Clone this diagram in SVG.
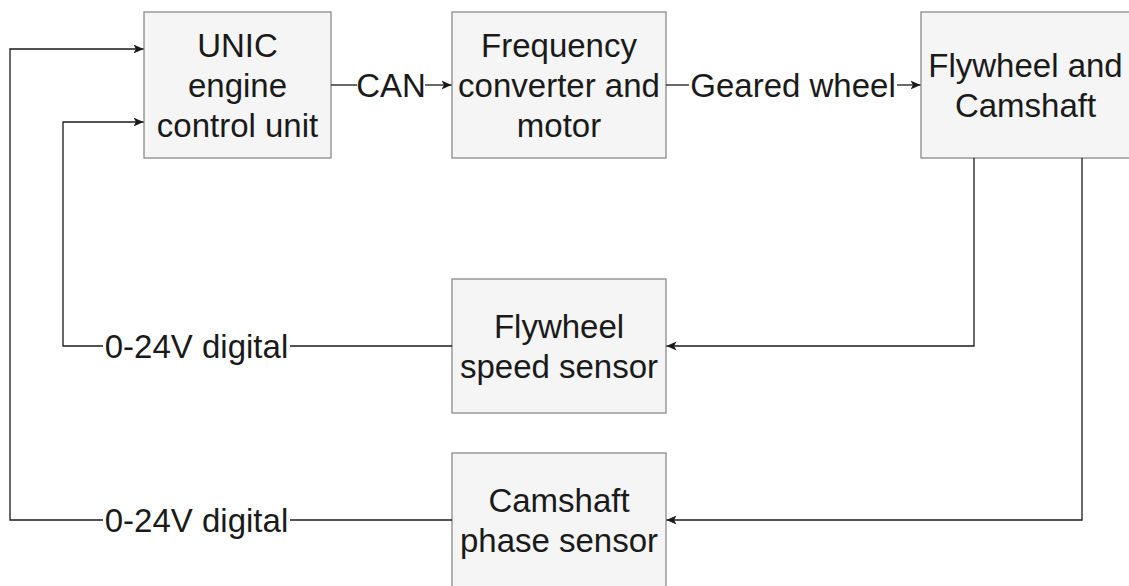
<svg xmlns="http://www.w3.org/2000/svg" width="1129" height="586" viewBox="0 0 1129 586">
  <style>
    .box { fill: #f5f5f5; stroke: #8a8a8a; stroke-width: 1.3; }
    .lbl { font-family: "Liberation Sans", Arial, sans-serif; font-size: 33px; fill: #1a1a1a; text-anchor: middle; }
    .wire { fill: none; stroke: #1a1a1a; stroke-width: 1.3; }
  </style>
  <defs>
    <marker id="arr" markerUnits="userSpaceOnUse" markerWidth="12" markerHeight="12" refX="10" refY="5" orient="auto">
      <path d="M0,0.5 L10,5 L0,9.5 L2.5,5 Z" fill="#1a1a1a"/>
    </marker>
  </defs>
  <rect width="1129" height="586" fill="#ffffff"/>

  <g id="unic">
    <rect class="box" x="144" y="12" width="187" height="146"/>
    <text class="lbl" x="237.5" y="56.7">UNIC</text>
    <text class="lbl" x="237.5" y="96.7">engine</text>
    <text class="lbl" x="237.5" y="136.7">control unit</text>
  </g>
  <g id="freq">
    <rect class="box" x="452" y="12" width="214" height="146"/>
    <text class="lbl" x="559" y="56.7">Frequency</text>
    <text class="lbl" x="559" y="96.7">converter and</text>
    <text class="lbl" x="559" y="136.7">motor</text>
  </g>
  <g id="flywheel-camshaft">
    <rect class="box" x="921" y="12" width="210" height="146"/>
    <text class="lbl" x="1025.5" y="76.7">Flywheel and</text>
    <text class="lbl" x="1025.5" y="116.7">Camshaft</text>
  </g>
  <g id="flywheel-sensor">
    <rect class="box" x="452" y="279" width="214" height="134"/>
    <text class="lbl" x="559" y="338">Flywheel</text>
    <text class="lbl" x="559" y="378">speed sensor</text>
  </g>
  <g id="camshaft-sensor">
    <rect class="box" x="452" y="453" width="214" height="134"/>
    <text class="lbl" x="559" y="512">Camshaft</text>
    <text class="lbl" x="559" y="552">phase sensor</text>
  </g>

  <g id="connectors">
    <path class="wire" d="M331,85 H357"/>
    <path class="wire" d="M425,85 H451.5" marker-end="url(#arr)"/>
    <text class="lbl" x="391" y="96.7">CAN</text>

    <path class="wire" d="M666,85 H689"/>
    <path class="wire" d="M897,85 H920.5" marker-end="url(#arr)"/>
    <text class="lbl" x="793" y="96.7">Geared wheel</text>

    <path class="wire" d="M974,158 V346 H666.5" marker-end="url(#arr)"/>
    <path class="wire" d="M1082,158 V520 H666.5" marker-end="url(#arr)"/>

    <path class="wire" d="M452,346 H290"/>
    <path class="wire" d="M103,346 H63 V122 H143.5" marker-end="url(#arr)"/>
    <text class="lbl" x="196.5" y="357.7">0-24V digital</text>

    <path class="wire" d="M452,520 H290"/>
    <path class="wire" d="M103,520 H10 V49 H143.5" marker-end="url(#arr)"/>
    <text class="lbl" x="196.5" y="531.7">0-24V digital</text>
  </g>
</svg>
